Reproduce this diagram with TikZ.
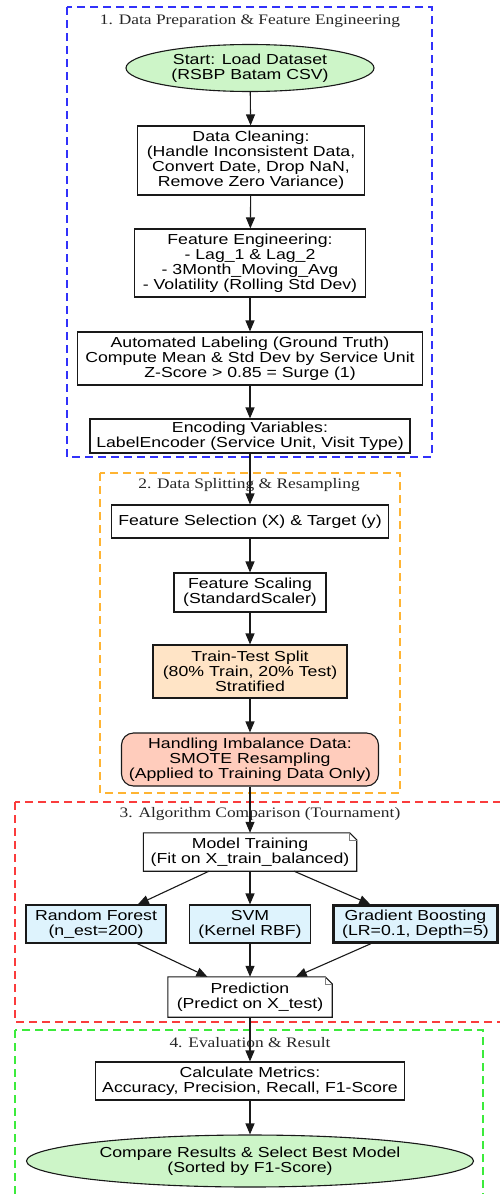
\documentclass[tikz,border=0pt]{standalone}
\usepackage{fontspec}
\setmainfont{Liberation Sans}[FakeStretch=1.22]
\newfontfamily\titlefont{Liberation Serif}[FakeStretch=1.2]
\usetikzlibrary{arrows.meta,shapes.geometric,calc}
\definecolor{startgreen}{RGB}{205,245,200}
\definecolor{splitfill}{RGB}{255,228,198}
\definecolor{smotefill}{RGB}{255,204,188}
\definecolor{modelblue}{RGB}{222,243,253}
\definecolor{clblue}{RGB}{50,50,250}
\definecolor{clorange}{RGB}{255,180,50}
\definecolor{clred}{RGB}{250,60,60}
\definecolor{clgreen}{RGB}{60,235,60}
\begin{document}
\begin{tikzpicture}[x=1pt,y=-1pt,
  nodetext/.style={font=\fontsize{14.5}{15}\selectfont, text=black, align=center},
  box/.style={nodetext, draw=black!90, line width=1.1pt, fill=white, inner sep=0pt, rectangle},
  oval/.style={nodetext, draw=black!90, line width=1.1pt, fill=startgreen, inner sep=0pt, ellipse},
  notebox/.style={nodetext, fill=white, inner sep=0pt, rectangle},
  cluster/.style={dash pattern=on 8pt off 5pt, line width=1.3pt},
  cltitle/.style={font=\titlefont\fontsize{14.5}{15}\selectfont, text=black!85},
  flow/.style={-{Triangle[length=11pt,width=9pt]}, line width=1.1pt, draw=black!90},
  fold/.style={draw=black!90, line width=1.1pt}
]
\useasboundingbox (0,0) rectangle (500,1194);
\fill[white] (0,0) rectangle (500,1194);
\clip (0,0) rectangle (500,1194);

% clusters
\draw[cluster, draw=clblue] (67,7) rectangle (432,457);
\draw[cluster, draw=clorange] (100,473) rectangle (400,793);
\draw[cluster, draw=clred] (15,802) rectangle (506,1022);
\draw[cluster, draw=clgreen] (15,1030) rectangle (483,1200);

\node[cltitle] (t1) at (250,21) {1. Data Preparation \& Feature Engineering};
\node[cltitle] (t2) at (249,485) {2. Data Splitting \& Resampling};
\node[cltitle] (t3) at (260,814) {3. Algorithm Comparison (Tournament)};
\node[cltitle] (t4) at (250,1043) {4. Evaluation \& Result};

% nodes
\node[oval, minimum width=248, minimum height=47] (start) at (250,68) {Start: Load Dataset\\(RSBP Batam CSV)};
\node[box, minimum width=227, minimum height=69] (clean) at (251,160.5) {Data Cleaning:\\(Handle Inconsistent Data,\\Convert Date, Drop NaN,\\Remove Zero Variance)};
\node[box, minimum width=231, minimum height=68] (feat) at (250,263) {Feature Engineering:\\- Lag\_1 \& Lag\_2\\- 3Month\_Moving\_Avg\\- Volatility (Rolling Std Dev)};
\node[box, minimum width=345, minimum height=53] (label) at (250,358.5) {Automated Labeling (Ground Truth)\\Compute Mean \& Std Dev by Service Unit\\Z-Score > 0.85 = Surge (1)};
\node[box, minimum width=320, minimum height=34] (enc) at (250,436) {Encoding Variables:\\LabelEncoder (Service Unit, Visit Type)};

\node[box, minimum width=277, minimum height=33] (fsel) at (250,521.5) {Feature Selection (X) \& Target (y)};
\node[box, minimum width=152, minimum height=39] (scale) at (250,592.5) {Feature Scaling\\(StandardScaler)};
\node[box, fill=splitfill, minimum width=194, minimum height=53] (split) at (250,671.5) {Train-Test Split\\(80\% Train, 20\% Test)\\Stratified};
\node[box, fill=smotefill, rounded corners=12pt, minimum width=257, minimum height=53] (smote) at (250,759.5) {Handling Imbalance Data:\\SMOTE Resampling\\(Applied to Training Data Only)};

\node[notebox, minimum width=213, minimum height=38] (train) at (250,852) {Model Training\\(Fit on X\_train\_balanced)};
\node[box, fill=modelblue, minimum width=140, minimum height=38] (rf) at (96,924) {Random Forest\\(n\_est=200)};
\node[box, fill=modelblue, minimum width=121, minimum height=38] (svm) at (250,924) {SVM\\(Kernel RBF)};
\node[box, fill=modelblue, line width=2.4pt, minimum width=164, minimum height=37] (gb) at (415.5,924) {Gradient Boosting\\(LR=0.1, Depth=5)};
\node[notebox, minimum width=164, minimum height=40] (pred) at (250,997) {Prediction\\(Predict on X\_test)};

\node[box, minimum width=309, minimum height=38] (metrics) at (250,1081) {Calculate Metrics:\\Accuracy, Precision, Recall, F1-Score};
\node[oval, minimum width=447, minimum height=52] (final) at (250,1161) {Compare Results \& Select Best Model\\(Sorted by F1-Score)};

% note shapes
\foreach \n in {train,pred}{
  \draw[fold] (\n.north west) -- ([xshift=-7pt]\n.north east) -- ([yshift=-7pt]\n.north east) -- (\n.south east) -- (\n.south west) -- cycle;
  \draw[fold, line width=0.6pt, draw=black!50] ([xshift=-7pt]\n.north east) -- ([xshift=-7pt,yshift=-7pt]\n.north east) -- ([yshift=-7pt]\n.north east);
}

% edges
\draw[flow] (start) -- (clean);
\draw[flow] (clean) -- (feat);
\draw[flow] (feat) -- (label);
\draw[flow] (label) -- (enc);
\draw[flow] (enc) -- (fsel);
\draw[flow] (fsel) -- (scale);
\draw[flow] (scale) -- (split);
\draw[flow] (split) -- (smote);
\draw[flow] (smote) -- (train);
\draw[flow] (train) -- (rf);
\draw[flow] (train) -- (svm);
\draw[flow] (train) -- (gb);
\draw[flow] (rf) -- (pred);
\draw[flow] (svm) -- (pred);
\draw[flow] (gb) -- (pred);
\draw[flow] (pred) -- (metrics);
\draw[flow] (metrics) -- (final);
\end{tikzpicture}
\end{document}
